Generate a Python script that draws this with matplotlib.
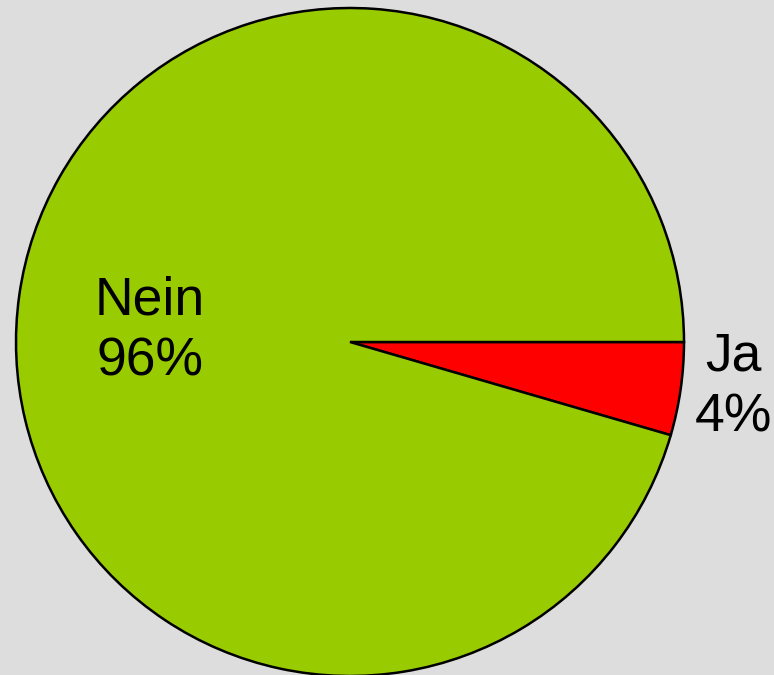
import matplotlib
matplotlib.use("Agg")
import matplotlib.pyplot as plt

categories = ["Ja", "Nein"]
values = [4.5, 95.5]
colors = ["#ff0000", "#99cc00"]

plt.rcParams['font.family'] = ['Liberation Sans', 'DejaVu Sans']

fig = plt.figure(figsize=(7.74, 6.75), dpi=100, facecolor="#dddddd")
ax = fig.add_axes([16/774, -1/675, 668/774, 668/675])
ax.set_facecolor("#dddddd")
wedges, _ = ax.pie(values, colors=colors, startangle=0, counterclock=False,
                   radius=1.0, wedgeprops=dict(edgecolor="black", linewidth=1.8))
ax.set_xlim(-1.0, 1.0)
ax.set_ylim(-1.0, 1.0)
ax.axis("off")

label_pos = {"Ja": (1.147, -0.135), "Nein": (-0.599, 0.033)}
for cat, v in zip(categories, values):
    x, y = label_pos[cat]
    ax.text(x, y, f"{cat}\n{v:.0f}%", ha="center", va="center",
            fontsize=38.5, linespacing=1.3, color="black")

fig.savefig("out.png", dpi=100, facecolor=fig.get_facecolor())
